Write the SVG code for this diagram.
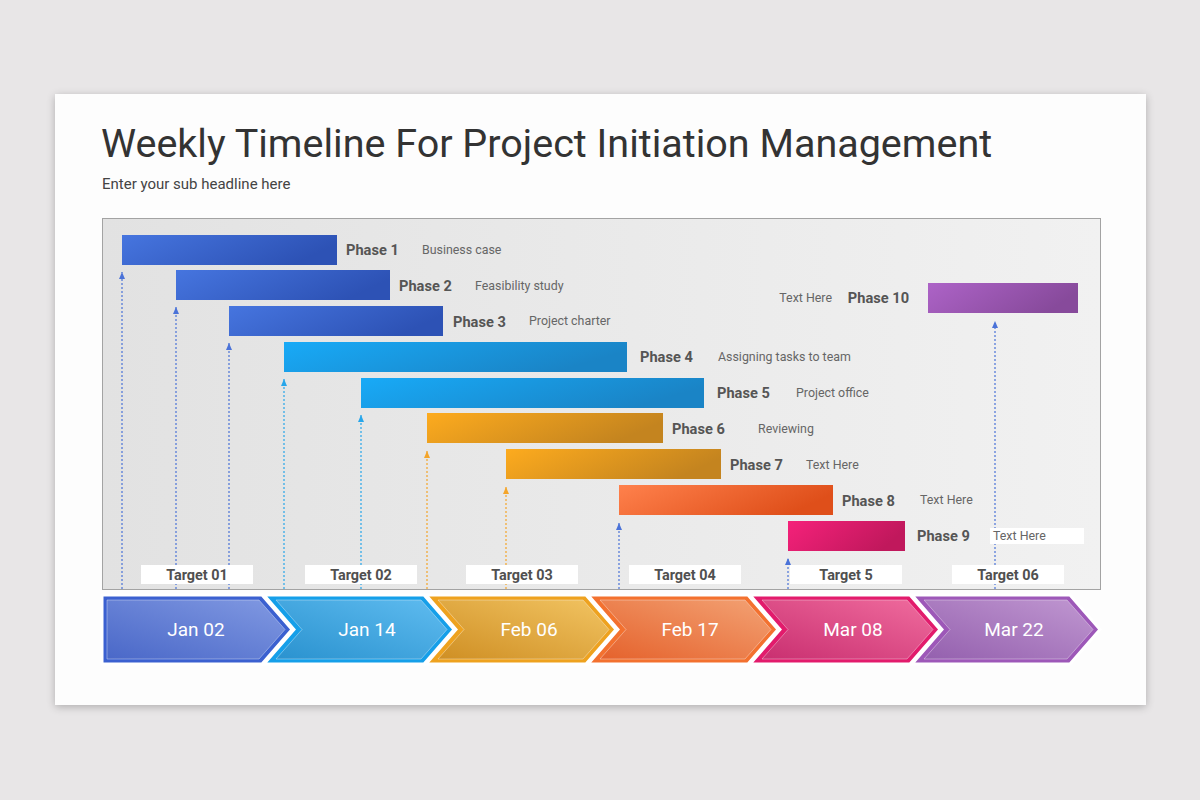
<svg xmlns="http://www.w3.org/2000/svg" width="1200" height="800" viewBox="0 0 1200 800">
<defs>
  <filter id="shadow" x="-5%" y="-5%" width="110%" height="115%">
    <feGaussianBlur in="SourceAlpha" stdDeviation="4"/>
    <feOffset dy="2"/>
    <feComponentTransfer><feFuncA type="linear" slope="0.25"/></feComponentTransfer>
    <feMerge><feMergeNode/><feMergeNode in="SourceGraphic"/></feMerge>
  </filter>
  <linearGradient id="panel" x1="0" y1="0" x2="1" y2="0">
    <stop offset="0" stop-color="#e2e2e2"/>
    <stop offset="1" stop-color="#f1f1f1"/>
  </linearGradient>
  <linearGradient id="gBlue" x1="0" y1="0" x2="1" y2="0.3">
    <stop offset="0" stop-color="#4675df"/><stop offset="1" stop-color="#2d52b5"/>
  </linearGradient>
  <linearGradient id="gCyan" x1="0" y1="0" x2="1" y2="0.3">
    <stop offset="0" stop-color="#18aaf7"/><stop offset="1" stop-color="#1a84c6"/>
  </linearGradient>
  <linearGradient id="gOrange" x1="0" y1="0" x2="1" y2="0.3">
    <stop offset="0" stop-color="#fdab1e"/><stop offset="1" stop-color="#c4841f"/>
  </linearGradient>
  <linearGradient id="gCoral" x1="0" y1="0" x2="1" y2="0.3">
    <stop offset="0" stop-color="#ff814c"/><stop offset="1" stop-color="#df4f1a"/>
  </linearGradient>
  <linearGradient id="gPink" x1="0" y1="0" x2="1" y2="0.3">
    <stop offset="0" stop-color="#f5217a"/><stop offset="1" stop-color="#c0185c"/>
  </linearGradient>
  <linearGradient id="gPurple" x1="0" y1="0" x2="1" y2="0.3">
    <stop offset="0" stop-color="#ad63c7"/><stop offset="1" stop-color="#874a9b"/>
  </linearGradient>
  <linearGradient id="c1" x1="0" y1="1" x2="1" y2="0"><stop offset="0" stop-color="#4a68c8"/><stop offset="1" stop-color="#8199e2"/></linearGradient>
  <linearGradient id="c2" x1="0" y1="1" x2="1" y2="0"><stop offset="0" stop-color="#2a92cf"/><stop offset="1" stop-color="#5fbcf0"/></linearGradient>
  <linearGradient id="c3" x1="0" y1="1" x2="1" y2="0"><stop offset="0" stop-color="#cf8f24"/><stop offset="1" stop-color="#f2c462"/></linearGradient>
  <linearGradient id="c4" x1="0" y1="1" x2="1" y2="0"><stop offset="0" stop-color="#e5622c"/><stop offset="1" stop-color="#f3a274"/></linearGradient>
  <linearGradient id="c5" x1="0" y1="1" x2="1" y2="0"><stop offset="0" stop-color="#c92f70"/><stop offset="1" stop-color="#f06c9e"/></linearGradient>
  <linearGradient id="c6" x1="0" y1="1" x2="1" y2="0"><stop offset="0" stop-color="#9460ae"/><stop offset="1" stop-color="#c097d1"/></linearGradient>
  <marker id="aBlue" viewBox="0 0 6 7" refX="3" refY="0" markerWidth="6" markerHeight="7" markerUnits="userSpaceOnUse">
    <path d="M0,7 L3,0 L6,7 Z" fill="#4a72d8"/>
  </marker>
  <marker id="aCyan" viewBox="0 0 6 7" refX="3" refY="0" markerWidth="6" markerHeight="7" markerUnits="userSpaceOnUse">
    <path d="M0,7 L3,0 L6,7 Z" fill="#27a6ea"/>
  </marker>
  <marker id="aOrange" viewBox="0 0 6 7" refX="3" refY="0" markerWidth="6" markerHeight="7" markerUnits="userSpaceOnUse">
    <path d="M0,7 L3,0 L6,7 Z" fill="#f4a52a"/>
  </marker>
</defs>
<style>
  .title { font-family: Roboto, "Liberation Sans", sans-serif; font-size: 39.5px; fill: #333333; }
  .sub { font-family: Roboto, "Liberation Sans", sans-serif; font-size: 15px; fill: #444444; }
  .ph { font-family: Roboto, "Liberation Sans", sans-serif; font-size: 14.6px; font-weight: bold; fill: #555555; }
  .desc { font-family: Roboto, "Liberation Sans", sans-serif; font-size: 12.4px; fill: #666666; }
  .tgt { font-family: Roboto, "Liberation Sans", sans-serif; font-size: 14.4px; font-weight: bold; fill: #505050; text-anchor: middle; }
  .date { font-family: Roboto, "Liberation Sans", sans-serif; font-size: 19px; fill: #ffffff; text-anchor: middle; }
  .tbox { fill: #ffffff; }
  .dl { fill: none; stroke-width: 1.2; stroke-dasharray: 2 2; }
  .outer { stroke: #ffffff; stroke-width: 3; stroke-linejoin: miter; }
  .inner { stroke: #ffffff; stroke-opacity: 0.45; stroke-width: 0.8; }
</style>

<rect x="0" y="0" width="1200" height="800" fill="#e8e6e7"/>
<rect x="55" y="94" width="1091" height="611" fill="#fdfdfd" filter="url(#shadow)"/>

<text class="title" x="101" y="157">Weekly Timeline For Project Initiation Management</text>
<text class="sub" x="102" y="189">Enter your sub headline here</text>

<rect x="102.5" y="218.5" width="998" height="371" fill="url(#panel)" stroke="#a3a3a3" stroke-width="1"/>

<g id="connectors">
  <line class="dl" x1="122" y1="589" x2="122" y2="272" stroke="#4a72d8" marker-end="url(#aBlue)"/>
  <line class="dl" x1="176" y1="589" x2="176" y2="307" stroke="#4a72d8" marker-end="url(#aBlue)"/>
  <line class="dl" x1="229" y1="589" x2="229" y2="343" stroke="#4a72d8" marker-end="url(#aBlue)"/>
  <line class="dl" x1="284" y1="589" x2="284" y2="379" stroke="#27a6ea" marker-end="url(#aCyan)"/>
  <line class="dl" x1="361" y1="589" x2="361" y2="415" stroke="#27a6ea" marker-end="url(#aCyan)"/>
  <line class="dl" x1="427" y1="589" x2="427" y2="451" stroke="#f4a52a" marker-end="url(#aOrange)"/>
  <line class="dl" x1="506" y1="589" x2="506" y2="487" stroke="#f4a52a" marker-end="url(#aOrange)"/>
  <line class="dl" x1="619" y1="589" x2="619" y2="523" stroke="#4a72d8" marker-end="url(#aBlue)"/>
  <line class="dl" x1="788" y1="589" x2="788" y2="558" stroke="#4a72d8" marker-end="url(#aBlue)"/>
  <line class="dl" x1="995" y1="589" x2="995" y2="321" stroke="#4a72d8" marker-end="url(#aBlue)"/>
</g>

<g id="phase1"><rect x="122" y="235" width="215" height="30" fill="url(#gBlue)"/><text class="ph" x="346" y="255">Phase 1</text><text class="desc" x="422" y="254">Business case</text></g>
<g id="phase2"><rect x="176" y="270" width="214" height="30" fill="url(#gBlue)"/><text class="ph" x="399" y="291">Phase 2</text><text class="desc" x="475" y="290">Feasibility study</text></g>
<g id="phase3"><rect x="229" y="306" width="214" height="30" fill="url(#gBlue)"/><text class="ph" x="453" y="327">Phase 3</text><text class="desc" x="529" y="325">Project charter</text></g>
<g id="phase4"><rect x="284" y="342" width="343" height="30" fill="url(#gCyan)"/><text class="ph" x="640" y="362">Phase 4</text><text class="desc" x="718" y="361">Assigning tasks to team</text></g>
<g id="phase5"><rect x="361" y="378" width="343" height="30" fill="url(#gCyan)"/><text class="ph" x="717" y="398">Phase 5</text><text class="desc" x="796" y="397">Project office</text></g>
<g id="phase6"><rect x="427" y="413" width="236" height="30" fill="url(#gOrange)"/><text class="ph" x="672" y="434">Phase 6</text><text class="desc" x="758" y="433">Reviewing</text></g>
<g id="phase7"><rect x="506" y="449" width="215" height="30" fill="url(#gOrange)"/><text class="ph" x="730" y="470">Phase 7</text><text class="desc" x="806" y="469">Text Here</text></g>
<g id="phase8"><rect x="619" y="485" width="214" height="30" fill="url(#gCoral)"/><text class="ph" x="842" y="506">Phase 8</text><text class="desc" x="920" y="504">Text Here</text></g>
<g id="phase9"><rect x="788" y="521" width="117" height="30" fill="url(#gPink)"/><text class="ph" x="917" y="541">Phase 9</text><rect class="tbox" x="990" y="528" width="94" height="16"/><text class="desc" x="993" y="540">Text Here</text></g>
<g id="phase10"><rect x="928" y="283" width="150" height="30" fill="url(#gPurple)"/><text class="ph" x="909" y="303" text-anchor="end">Phase 10</text><text class="desc" x="832" y="302" text-anchor="end">Text Here</text></g>

<g id="target01"><rect class="tbox" x="141" y="565" width="112" height="19"/><text class="tgt" x="197" y="580">Target 01</text></g>
<g id="target02"><rect class="tbox" x="305" y="565" width="112" height="19"/><text class="tgt" x="361" y="580">Target 02</text></g>
<g id="target03"><rect class="tbox" x="466" y="565" width="112" height="19"/><text class="tgt" x="522" y="580">Target 03</text></g>
<g id="target04"><rect class="tbox" x="629" y="565" width="112" height="19"/><text class="tgt" x="685" y="580">Target 04</text></g>
<g id="target05"><rect class="tbox" x="790" y="565" width="112" height="19"/><text class="tgt" x="846" y="580">Target 5</text></g>
<g id="target06"><rect class="tbox" x="952" y="565" width="112" height="19"/><text class="tgt" x="1008" y="580">Target 06</text></g>

<g id="chev1">
  <polygon class="outer" points="102,595 262,595 292,629.5 262,664 102,664" fill="#3b60d0"/>
  <polygon class="inner" points="107,600 259,600 285,629.5 259,659 107,659" fill="url(#c1)"/>
  <text class="date" x="196" y="636">Jan 02</text>
</g>
<g id="chev2">
  <polygon class="outer" points="264,595 424,595 454,629.5 424,664 264,664 294,629.5" fill="#159fe9"/>
  <polygon class="inner" points="276,600 421,600 447,629.5 421,659 276,659 302,629.5" fill="url(#c2)"/>
  <text class="date" x="367" y="636">Jan 14</text>
</g>
<g id="chev3">
  <polygon class="outer" points="426,595 586,595 616,629.5 586,664 426,664 456,629.5" fill="#eea21f"/>
  <polygon class="inner" points="438,600 583,600 609,629.5 583,659 438,659 464,629.5" fill="url(#c3)"/>
  <text class="date" x="529" y="636">Feb 06</text>
</g>
<g id="chev4">
  <polygon class="outer" points="588,595 748,595 778,629.5 748,664 588,664 618,629.5" fill="#f3712f"/>
  <polygon class="inner" points="600,600 745,600 771,629.5 745,659 600,659 626,629.5" fill="url(#c4)"/>
  <text class="date" x="690" y="636">Feb 17</text>
</g>
<g id="chev5">
  <polygon class="outer" points="750,595 910,595 940,629.5 910,664 750,664 780,629.5" fill="#e21b6c"/>
  <polygon class="inner" points="762,600 907,600 933,629.5 907,659 762,659 788,629.5" fill="url(#c5)"/>
  <text class="date" x="853" y="636">Mar 08</text>
</g>
<g id="chev6">
  <polygon class="outer" points="912,595 1070,595 1100,629.5 1070,664 912,664 942,629.5" fill="#9d58b8"/>
  <polygon class="inner" points="924,600 1067,600 1093,629.5 1067,659 924,659 950,629.5" fill="url(#c6)"/>
  <text class="date" x="1014" y="636">Mar 22</text>
</g>
</svg>
